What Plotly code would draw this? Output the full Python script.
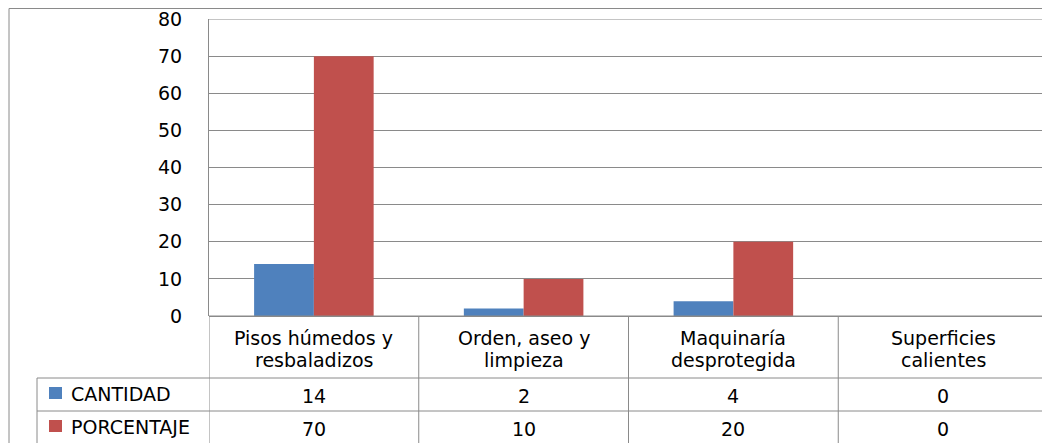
import plotly.graph_objects as go

# ---- data ----
categories = ["Pisos húmedos y resbaladizos", "Orden, aseo y limpieza",
              "Maquinaría desprotegida", "Superficies calientes"]
category_lines = [["Pisos húmedos y", "resbaladizos"], ["Orden, aseo y", "limpieza"],
                  ["Maquinaría", "desprotegida"], ["Superficies", "calientes"]]
series_names = ["CANTIDAD", "PORCENTAJE"]
cantidad = [14, 2, 4, 0]
porcentaje = [70, 10, 20, 0]
y_ticks = [0, 10, 20, 30, 40, 50, 60, 70, 80]

colors = ["#4F81BD", "#C0504D"]
grid = "#8a8a8a"
FONT = "DejaVu Sans"
FS = 19
W, H = 1050, 443
OFF = 8  # browser default body margin


def X(px):
    return (px - OFF) / W


def Y(py):
    return 1 - (py - OFF) / H


fig = go.Figure()
for name, vals, c in zip(series_names, [cantidad, porcentaje], colors):
    fig.add_trace(go.Bar(x=categories, y=vals, name=name, marker_color=c,
                         marker_line_width=0, showlegend=False))

fig.update_layout(
    width=W, height=H, margin=dict(l=0, r=0, t=0, b=0, pad=0, autoexpand=False),
    paper_bgcolor="white", plot_bgcolor="white",
    barmode="group", bargap=0.43, bargroupgap=0,
    font=dict(family=FONT, size=FS, color="black"),
    xaxis=dict(domain=[X(209), X(1048)], range=[-0.5, 3.5], showticklabels=False,
               showgrid=False, zeroline=False, showline=False, ticks="", automargin=False),
    yaxis=dict(domain=[Y(316), Y(19)], range=[0, 80], tickvals=y_ticks,
               showgrid=True, gridcolor=grid, gridwidth=1,
               zeroline=True, zerolinecolor=grid, zerolinewidth=1,
               showline=True, linecolor=grid, linewidth=1,
               ticks="", ticklabelstandoff=22, automargin=False,
               ticklabeloverflow="allow",
               tickfont=dict(family=FONT, size=FS, color="black")),
)

shapes = []
line = dict(color=grid, width=1)
# outer chart border
shapes.append(dict(type="rect", xref="paper", yref="paper",
                   x0=X(9), x1=X(1049.5), y0=Y(470), y1=Y(8.5), line=line))
# top gridline at the axis maximum
shapes.append(dict(type="line", xref="x", yref="y", x0=-0.5, x1=3.5,
                   y0=max(y_ticks), y1=max(y_ticks), line=line))
# horizontal table lines
shapes.append(dict(type="line", xref="x", yref="paper", x0=-0.5, x1=3.5,
                   y0=Y(316), y1=Y(316), line=line))
for py in [378, 411]:
    shapes.append(dict(type="line", xref="paper", yref="paper", x0=X(37), x1=X(1048),
                       y0=Y(py), y1=Y(py), line=line))
# vertical table lines at category boundaries
for i in range(len(categories) + 1):
    shapes.append(dict(type="line", xref="x", yref="paper", x0=i - 0.5, x1=i - 0.5,
                       y0=Y(316), y1=Y(470), line=line))
shapes.append(dict(type="line", xref="paper", yref="paper", x0=X(37), x1=X(37),
                   y0=Y(378), y1=Y(470), line=line))

annotations = []
for cat, lines in zip(categories, category_lines):
    for j, t in enumerate(lines):
        annotations.append(dict(x=cat, xref="x", y=Y(338 + 22 * j), yref="paper",
                                text=t, showarrow=False, xanchor="center", yanchor="middle",
                                font=dict(family=FONT, size=FS, color="black")))
row_y = [396, 429]
for r, (name, vals, c) in enumerate(zip(series_names, [cantidad, porcentaje], colors)):
    for cat, v in zip(categories, vals):
        annotations.append(dict(x=cat, xref="x", y=Y(row_y[r]), yref="paper",
                                text=str(v), showarrow=False, xanchor="center", yanchor="middle",
                                font=dict(family=FONT, size=FS, color="black")))
    annotations.append(dict(x=X(69), xref="paper", y=Y(row_y[r] - 2), yref="paper",
                            text=name, showarrow=False, xanchor="left", yanchor="middle",
                            font=dict(family=FONT, size=FS, color="black")))
    sq_top = row_y[r] - 9
    shapes.append(dict(type="rect", xref="paper", yref="paper", x0=X(49), x1=X(62),
                       y0=Y(sq_top + 12), y1=Y(sq_top), fillcolor=c, line=dict(width=0)))

fig.update_layout(shapes=shapes, annotations=annotations)
fig.write_html("out.html")
